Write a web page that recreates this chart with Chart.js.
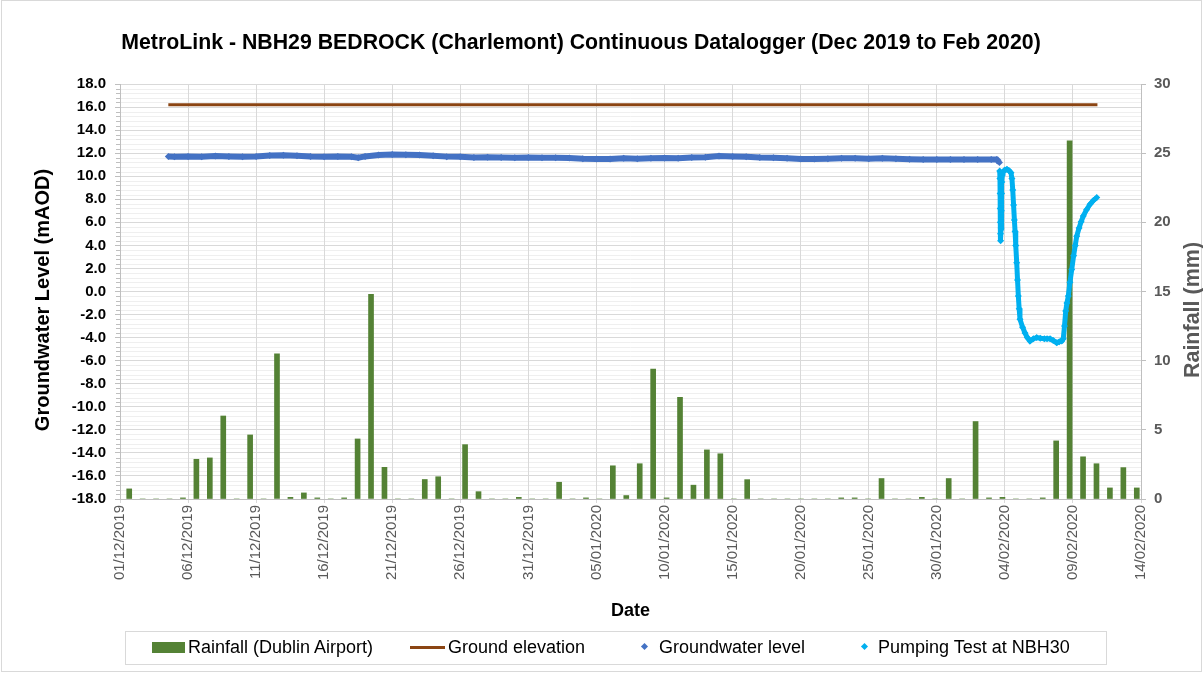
<!DOCTYPE html>
<html>
<head>
<meta charset="utf-8">
<title>MetroLink - NBH29 BEDROCK datalogger</title>
<script src="https://cdn.jsdelivr.net/npm/chart.js@4.4.1/dist/chart.umd.min.js"></script>
<style>
  body { margin: 0; background: #fff; font-family: "Liberation Sans", Arial, sans-serif; }
  #wrap { position: relative; width: 1203px; height: 673px; }
  #frame { position: absolute; left: 1px; top: 0; width: 1199px; height: 670px; border: 1px solid #D9D9D9; }
  #title { position: absolute; left: 0; top: 29px; width: 1162px; text-align: center;
           font-weight: bold; font-size: 21.3px; line-height: 26px; color: #000; }
  .ytitle { position: absolute; width: 300px; height: 24px; line-height: 24px; text-align: center;
            font-weight: bold; transform: rotate(-90deg); white-space: nowrap; }
  #legend { position: absolute; left: 125px; top: 631px; width: 980px; height: 32px; border: 1px solid #D9D9D9; }
  .lg { position: absolute; font-size: 18px; line-height: 22px; top: 636px; color: #000; white-space: nowrap; }
  .sw { position: absolute; }
</style>
</head>
<body>
<div id="wrap">
  <div id="frame"></div>
  <canvas id="chart" width="1203" height="673"></canvas>
  <div id="title">MetroLink - NBH29 BEDROCK (Charlemont) Continuous Datalogger (Dec 2019 to Feb 2020)</div>
  <div class="ytitle" style="left:-108px;top:288px;font-size:20px;color:#000">Groundwater Level (mAOD)</div>
  <div class="ytitle" style="left:1042px;top:298px;font-size:21.5px;color:#595959">Rainfall (mm)</div>
  <div id="legend"></div>
  <div class="sw" style="left:152px;top:642px;width:33px;height:11px;background:#548235"></div>
  <div class="lg" style="left:188px">Rainfall (Dublin Airport)</div>
  <div class="sw" style="left:410px;top:646px;width:35px;height:3px;background:#8B4513"></div>
  <div class="lg" style="left:448px">Ground elevation</div>
  <div class="sw" style="left:642px;top:644px;width:5px;height:5px;background:#4472C4;transform:rotate(45deg)"></div>
  <div class="lg" style="left:659px">Groundwater level</div>
  <div class="sw" style="left:862px;top:644px;width:5px;height:5px;background:#00B0F0;transform:rotate(45deg)"></div>
  <div class="lg" style="left:878px">Pumping Test at NBH30</div>
</div>
<script>
// days are counted from 01/12/2019 00:00

// daily rainfall at Dublin Airport (mm), 01/12/2019 .. 14/02/2020
const rainfall = [
  0.73, 0, 0, 0, 0.08, 2.87, 2.97, 6.0, 0, 4.63,
  0, 10.5, 0.12, 0.44, 0.08, 0, 0.08, 4.34, 14.8, 2.29,
  0, 0, 1.41, 1.61, 0, 3.93, 0.53, 0, 0, 0.12,
  0, 0, 1.21, 0, 0.08, 0, 2.4, 0.25, 2.55, 9.4,
  0.08, 7.35, 1.0, 3.55, 3.27, 0, 1.4, 0, 0, 0,
  0, 0, 0, 0.08, 0.08, 0, 1.48, 0, 0, 0.12,
  0, 1.48, 0, 5.6, 0.08, 0.12, 0, 0, 0.08, 4.2,
  25.9, 3.05, 2.55, 0.8, 2.27, 0.8
];
const rainLabels = rainfall.map((_, i) => new Date(2019, 11, 1 + i).toLocaleDateString('en-GB'));

// ground elevation (mAOD)
const geDay = [3.55, 71.8];
const geLevel = [16.2, 16.2];

// NBH29 groundwater level (mAOD)
const gwDay = [3.55, 4, 5, 6, 7, 8, 9, 10, 11, 12,
  13, 14, 15, 16, 17, 17.5, 18, 19, 20, 21,
  22, 23, 24, 25, 26, 27, 28, 29, 30, 31,
  32, 33, 34, 35, 36, 37, 38, 39, 40, 41,
  42, 43, 44, 45, 46, 47, 48, 49, 50, 51,
  52, 53, 54, 55, 56, 57, 58, 59, 60, 61,
  62, 63, 64, 64.4, 64.6];
const gwLevel = [11.72, 11.7, 11.72, 11.7, 11.75, 11.72, 11.7, 11.72, 11.8, 11.82,
  11.78, 11.72, 11.7, 11.72, 11.68, 11.6, 11.72, 11.85, 11.88, 11.86,
  11.85, 11.78, 11.7, 11.68, 11.62, 11.65, 11.62, 11.6, 11.62, 11.6,
  11.6, 11.58, 11.52, 11.5, 11.5, 11.55, 11.52, 11.55, 11.58, 11.55,
  11.62, 11.65, 11.75, 11.72, 11.68, 11.62, 11.6, 11.55, 11.5, 11.5,
  11.52, 11.55, 11.55, 11.52, 11.55, 11.52, 11.48, 11.45, 11.45, 11.45,
  11.45, 11.45, 11.45, 11.45, 11.2];

// pumping test at NBH30 - level in NBH29 (mAOD)
const ptDay = [64.62, 64.64, 64.65, 64.66, 64.67, 64.68, 64.69, 64.72, 64.74, 64.76,
  64.78, 64.82, 64.9, 65.0, 65.15, 65.3, 65.45, 65.52, 65.58, 65.64,
  65.7, 65.75, 65.8, 65.87, 65.93, 65.99, 66.05, 66.11, 66.3, 66.48,
  66.65, 66.85, 67.1, 67.34, 67.6, 67.9, 68.1, 68.32, 68.55, 68.81,
  69.0, 69.18, 69.29, 69.38, 69.47, 69.56, 69.66, 69.78, 69.91, 70.05,
  70.17, 70.28, 70.45, 70.6, 70.76, 71.0, 71.26, 71.5, 71.75];
const ptLevel = [10.46, 9.8, 8.5, 7.2, 6.0, 5.0, 4.4, 5.5, 7.0, 8.5,
  9.5, 10.1, 10.4, 10.55, 10.6, 10.5, 10.3, 9.8, 8.8, 7.5,
  6.2, 5.2, 4.0, 2.5, 1.0, -0.4, -1.5, -2.4, -3.1, -3.6,
  -4.0, -4.3, -4.1, -4.0, -4.05, -4.1, -4.1, -4.1, -4.25, -4.45,
  -4.35, -4.3, -4.1, -3.0, -1.7, -1.0, -0.4, 0.8, 1.9, 3.1,
  4.0, 4.8, 5.5, 6.05, 6.55, 7.1, 7.57, 7.9, 8.15];

const xy = (xs, ys) => xs.map((x, i) => ({x: x, y: ys[i]}));
const pad2 = n => String(n).padStart(2, '0');

// light minor gridlines + minor tick marks on the left axis
const minorGrid = {
  id: 'minorGrid',
  beforeDraw(chart) {
    const {ctx, chartArea: a} = chart;
    const y = chart.scales.y;
    ctx.save();
    ctx.lineWidth = 1;
    for (let i = 0; i <= 90; i++) {
      if (i % 5 === 0) continue;
      const py = Math.round(y.getPixelForValue(-18 + i * 0.4)) + 0.5;
      ctx.strokeStyle = '#EFEFEF';
      ctx.beginPath(); ctx.moveTo(a.left, py); ctx.lineTo(a.right, py); ctx.stroke();
      ctx.strokeStyle = '#BFBFBF';
      ctx.beginPath(); ctx.moveTo(a.left - 4, py); ctx.lineTo(a.left, py); ctx.stroke();
    }
    ctx.restore();
  }
};

new Chart(document.getElementById('chart'), {
  type: 'bar',
  data: {
    labels: rainLabels,
    datasets: [
      {
        type: 'line', label: 'Pumping Test at NBH30', data: xy(ptDay, ptLevel),
        xAxisID: 'x', yAxisID: 'y', borderColor: '#00B0F0', backgroundColor: '#00B0F0',
        borderWidth: 5, pointStyle: 'rectRot', pointRadius: 3.5, pointBorderWidth: 0, order: 0
      },
      {
        type: 'line', label: 'Groundwater level', data: xy(gwDay, gwLevel),
        xAxisID: 'x', yAxisID: 'y', borderColor: '#4472C4', backgroundColor: '#4472C4',
        borderWidth: 6, pointStyle: 'rectRot', pointRadius: 3.5, pointBorderWidth: 0, order: 1
      },
      {
        type: 'line', label: 'Ground elevation', data: xy(geDay, geLevel),
        xAxisID: 'x', yAxisID: 'y', borderColor: '#8B4513', borderWidth: 3,
        pointRadius: 0, order: 2
      },
      {
        type: 'bar', label: 'Rainfall (Dublin Airport)', data: rainfall,
        xAxisID: 'xBar', yAxisID: 'yR', backgroundColor: '#548235',
        barThickness: 5, order: 5
      }
    ]
  },
  options: {
    responsive: false,
    animation: false,
    layout: { padding: { top: 84, left: 10, right: 0, bottom: 49 } },
    plugins: { legend: { display: false }, title: { display: false }, tooltip: { enabled: false } },
    scales: {
      x: {
        type: 'linear', position: 'bottom', min: 0, max: 75, offset: false,
        afterFit: s => { s.height = 125; },
        ticks: {
          stepSize: 5, maxTicksLimit: 20, autoSkip: false, minRotation: 90, maxRotation: 90,
          padding: 2, color: '#595959', font: { family: 'Liberation Sans', size: 15 },
          callback: v => {
            const d = new Date(2019, 11, 1 + v);
            return pad2(d.getDate()) + '/' + pad2(d.getMonth() + 1) + '/' + d.getFullYear();
          }
        },
        grid: { color: '#D9D9D9', tickLength: 4, offset: false },
        border: { color: '#BFBFBF' },
        title: { display: true, text: 'Date', color: '#000',
                 font: { family: 'Liberation Sans', size: 18, weight: 'bold' }, padding: { top: 4, bottom: 2 } }
      },
      xBar: { type: 'category', display: false, offset: true, grid: { offset: true } },
      y: {
        position: 'left', min: -18, max: 18,
        afterFit: s => { s.width = 110; },
        ticks: {
          stepSize: 2, maxTicksLimit: 20, padding: 9, color: '#000',
          font: { family: 'Liberation Sans', size: 15, weight: 'bold' },
          callback: v => v.toFixed(1)
        },
        grid: { color: '#D9D9D9', tickLength: 5, tickColor: '#BFBFBF' },
        border: { color: '#BFBFBF' }
      },
      yR: {
        position: 'right', min: 0, max: 30,
        afterFit: s => { s.width = 62; },
        ticks: {
          stepSize: 5, padding: 8, color: '#595959',
          font: { family: 'Liberation Sans', size: 15, weight: 'bold' }
        },
        grid: { drawOnChartArea: false, tickLength: 5, color: '#BFBFBF' },
        border: { color: '#BFBFBF' }
      }
    }
  },
  plugins: [minorGrid]
});
</script>
</body>
</html>
